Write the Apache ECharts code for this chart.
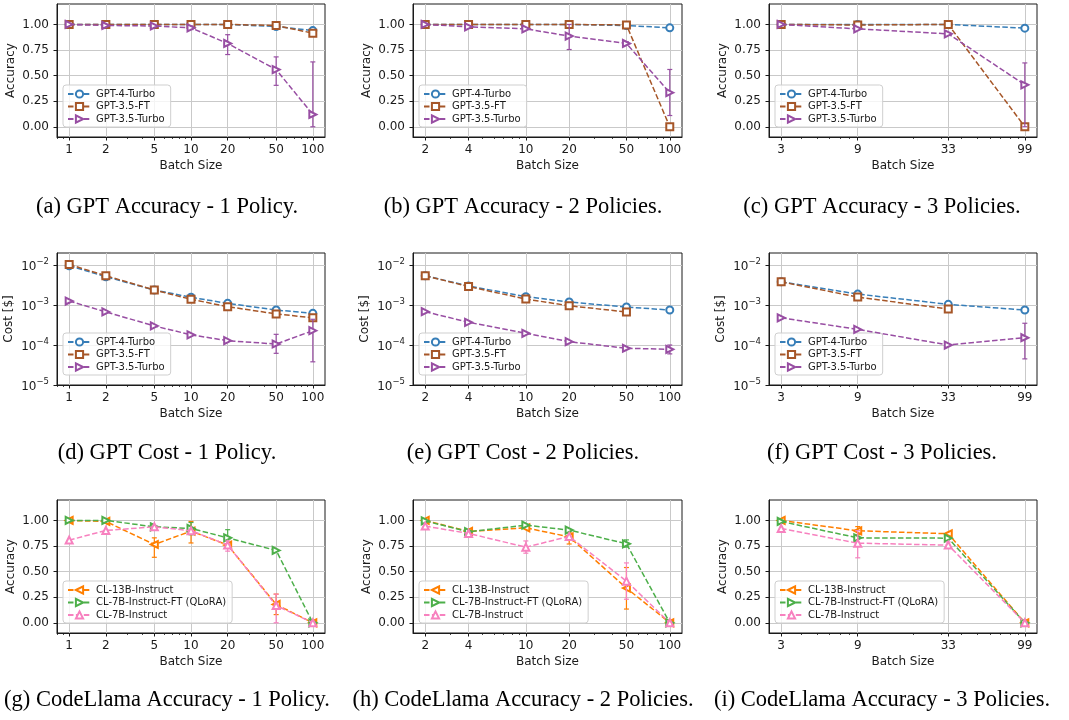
<!DOCTYPE html>
<html><head><meta charset="utf-8">
<script src="https://cdn.jsdelivr.net/npm/echarts@6/dist/echarts.min.js"></script>
<style>html,body{margin:0;padding:0;background:#fff}#c{width:1069px;height:720px}</style>
</head><body><div id="c"></div>
<script>
// ---------- batch sizes (x categories) ----------
const batch1 = [1, 2, 5, 10, 20, 50, 100];
const batch2 = [2, 4, 10, 20, 50, 100];
const batch3 = [3, 9, 33, 99];

const gptNames = ['GPT-4-Turbo', 'GPT-3.5-FT', 'GPT-3.5-Turbo'];
const clNames = ['CL-13B-Instruct', 'CL-7B-Instruct-FT (QLoRA)', 'CL-7B-Instruct'];

const accTicks = [0, 0.25, 0.5, 0.75, 1.0];
const costTicks = [1e-5, 1e-4, 1e-3, 1e-2];

// ---------- (a) GPT Accuracy - 1 Policy ----------
const accA_gpt4  = [1.0, 1.0, 1.0, 1.0, 1.0, 0.98, 0.94];
const accA_ft    = [1.0, 1.0, 1.0, 1.0, 1.0, 0.99, 0.915];
const accA_turbo = [1.0, 0.99, 0.985, 0.967, 0.814, 0.559, 0.12];
const errA_turbo = [null, null, null, [0.95, 0.985], [0.706, 0.90], [0.405, 0.683], [0.0, 0.634]];

// ---------- (b) GPT Accuracy - 2 Policies ----------
const accB_gpt4  = [1.0, 1.0, 1.0, 1.0, 0.99, 0.967];
const accB_ft    = [1.0, 1.0, 1.0, 1.0, 0.995, 0.0];
const accB_turbo = [1.0, 0.977, 0.957, 0.886, 0.814, 0.333];
const errB_turbo = [null, null, null, [0.755, 1.0], [0.80, 0.83], [0.11, 0.56]];

// ---------- (c) GPT Accuracy - 3 Policies ----------
const accC_gpt4  = [1.0, 1.0, 1.0, 0.964];
const accC_ft    = [1.0, 0.995, 1.0, 0.0];
const accC_turbo = [1.0, 0.957, 0.908, 0.41];
const errC_turbo = [null, null, null, [0.0, 0.624]];

// ---------- (d) GPT Cost - 1 Policy ----------
const costD_gpt4  = [0.0096, 0.0051, 0.00237, 0.00156, 0.0011, 0.00075, 0.00062];
const costD_ft    = [0.0103, 0.0054, 0.00237, 0.00139, 0.00091, 0.0006, 0.00048];
const costD_turbo = [0.00126, 0.00067, 0.0003, 0.00018, 0.000128, 0.000106, 0.000228];
const errD_turbo  = [null, null, null, null, null, [6.2e-5, 1.85e-4], [3.8e-5, 4.4e-4]];

// ---------- (e) GPT Cost - 2 Policies ----------
const costE_gpt4  = [0.0054, 0.003, 0.00162, 0.00119, 0.00089, 0.00075];
const costE_ft    = [0.0054, 0.0029, 0.00141, 0.00096, 0.00067, null];
const costE_turbo = [0.00068, 0.00037, 0.000196, 0.000121, 8.3e-5, 7.8e-5];
const errE_turbo  = [null, null, null, null, null, [6.0e-5, 1.0e-4]];

// ---------- (f) GPT Cost - 3 Policies ----------
const costF_gpt4  = [0.0038, 0.00188, 0.00104, 0.00075];
const costF_ft    = [0.0038, 0.00158, 0.00079, null];
const costF_turbo = [0.00048, 0.000246, 0.0001, 0.000152];
const errF_turbo  = [null, null, null, [4.5e-5, 3.5e-4]];

// ---------- (g) CodeLlama Accuracy - 1 Policy ----------
const accG_13b  = [1.0, 0.99, 0.765, 0.896, 0.759, 0.179, 0.0];
const accG_7bft = [1.0, 1.0, 0.938, 0.922, 0.83, 0.707, 0.0];
const accG_7b   = [0.808, 0.902, 0.938, 0.9, 0.76, 0.169, 0.0];
const errG_13b  = [null, null, [0.64, 0.83], [0.78, 0.99], null, [0.08, 0.28], null];
const errG_7bft = [null, null, null, [0.86, 0.98], [0.75, 0.91], null, null];
const errG_7b   = [null, null, null, null, [0.70, 0.80], [0.0, 0.28], null];

// ---------- (h) CodeLlama Accuracy - 2 Policies ----------
const accH_13b  = [1.0, 0.893, 0.928, 0.84, 0.339, 0.0];
const accH_7bft = [0.995, 0.89, 0.954, 0.906, 0.772, 0.0];
const accH_7b   = [0.945, 0.873, 0.739, 0.844, 0.407, 0.0];
const errH_13b  = [null, null, null, [0.77, 0.88], [0.134, 0.54], null];
const errH_7bft = [null, null, null, null, [0.74, 0.81], null];
const errH_7b   = [null, null, [0.68, 0.80], null, [0.23, 0.585], null];

// ---------- (i) CodeLlama Accuracy - 3 Policies ----------
const accI_13b  = [1.0, 0.899, 0.87, 0.0];
const accI_7bft = [0.99, 0.83, 0.827, 0.0];
const accI_7b   = [0.922, 0.778, 0.759, 0.0];
const errI_13b  = [null, [0.86, 0.94], null, null];
const errI_7bft = [null, null, null, null];
const errI_7b   = [null, [0.635, 0.9], [0.73, 0.79], null];

const captions = [
  '(a) GPT Accuracy - 1 Policy.', '(b) GPT Accuracy - 2 Policies.', '(c) GPT Accuracy - 3 Policies.',
  '(d) GPT Cost - 1 Policy.', '(e) GPT Cost - 2 Policies.', '(f) GPT Cost - 3 Policies.',
  '(g) CodeLlama Accuracy - 1 Policy.', '(h) CodeLlama Accuracy - 2 Policies.', '(i) CodeLlama Accuracy - 3 Policies.'
];

// ---------- styling ----------
const FAM = {
  gpt: { names: gptNames, colors: ['#377eb8', '#a65628', '#984ea3'],
         symbols: ['emptyCircle', 'emptyRect', 'emptyTriangle'], rot: [0, 0, -90] },
  cl:  { names: clNames, colors: ['#ff7f00', '#4daf4a', '#f781bf'],
         symbols: ['emptyTriangle', 'emptyTriangle', 'emptyTriangle'], rot: [90, -90, 0] }
};

const panels = [
  { xs: batch1, kind: 'acc',  fam: 'gpt', ys: [accA_gpt4, accA_ft, accA_turbo], errs: [null, null, errA_turbo] },
  { xs: batch2, kind: 'acc',  fam: 'gpt', ys: [accB_gpt4, accB_ft, accB_turbo], errs: [null, null, errB_turbo] },
  { xs: batch3, kind: 'acc',  fam: 'gpt', ys: [accC_gpt4, accC_ft, accC_turbo], errs: [null, null, errC_turbo] },
  { xs: batch1, kind: 'cost', fam: 'gpt', ys: [costD_gpt4, costD_ft, costD_turbo], errs: [null, null, errD_turbo] },
  { xs: batch2, kind: 'cost', fam: 'gpt', ys: [costE_gpt4, costE_ft, costE_turbo], errs: [null, null, errE_turbo] },
  { xs: batch3, kind: 'cost', fam: 'gpt', ys: [costF_gpt4, costF_ft, costF_turbo], errs: [null, null, errF_turbo] },
  { xs: batch1, kind: 'acc',  fam: 'cl', ys: [accG_13b, accG_7bft, accG_7b], errs: [errG_13b, errG_7bft, errG_7b] },
  { xs: batch2, kind: 'acc',  fam: 'cl', ys: [accH_13b, accH_7bft, accH_7b], errs: [errH_13b, errH_7bft, errH_7b] },
  { xs: batch3, kind: 'acc',  fam: 'cl', ys: [accI_13b, accI_7bft, accI_7b], errs: [errI_13b, errI_7bft, errI_7b] }
];

const colLeft = [57, 413, 769], colW = [268, 269, 268];
const rowTop = [4, 253, 500], rowH = [133, 132, 133];
const capY = [207, 453, 700], capX = [167, 523, 882];

const FONT = 'DejaVu Sans';
const INK = '#1a1a1a';
const GRIDC = '#c9c9c9';

const grids = [], xAxes = [], yAxes = [], series = [], legends = [], graphics = [];

panels.forEach((p, i) => {
  const r = Math.floor(i / 3), c = i % 3;
  const left = colLeft[c], top = rowTop[r], w = colW[c], h = rowH[r];
  grids.push({ left, top, width: w, height: h, show: true, borderColor: INK, borderWidth: 1,
               backgroundColor: 'transparent', outerBoundsMode: 'none', containLabel: false });

  const lo = Math.log10(p.xs[0]), hi = Math.log10(p.xs[p.xs.length - 1]);
  const pad = (hi - lo) * 0.05;
  const xmin = Math.pow(10, lo - pad), xmax = Math.pow(10, hi + pad);
  const minors = [];
  for (let d = -1; d <= 2; d++) for (let m = 2; m <= 9; m++) {
    const v = Math.round(m * Math.pow(10, d) * 1000) / 1000;
    if (v > xmin && v < xmax && p.xs.indexOf(v) < 0) minors.push(v);
  }

  xAxes.push({
    type: 'log', logBase: 10, gridIndex: i, min: xmin, max: xmax, position: 'bottom',
    axisLine: { show: true, onZero: false, lineStyle: { color: INK, width: 1 } },
    axisTick: { show: true, customValues: p.xs, length: 3.5, lineStyle: { color: INK, width: 1 } },
    axisLabel: { show: true, customValues: p.xs, margin: 7, fontSize: 12, color: INK, fontFamily: FONT,
                 formatter: v => String(Math.round(v)) },
    splitLine: { show: true, lineStyle: { color: GRIDC, width: 1 } },
    name: 'Batch Size', nameLocation: 'middle', nameGap: 23,
    nameTextStyle: { fontSize: 12, color: INK, fontFamily: FONT }
  });
  xAxes.push({
    type: 'log', logBase: 10, gridIndex: i, min: xmin, max: xmax, position: 'bottom', offset: 0,
    axisLine: { show: false, onZero: false }, axisLabel: { show: false }, splitLine: { show: false },
    axisTick: { show: true, customValues: minors, length: 2, lineStyle: { color: INK, width: 0.8 } }
  });

  if (p.kind === 'acc') {
    yAxes.push({
      type: 'value', gridIndex: i, min: -0.1, max: 1.2,
      axisLine: { show: true, onZero: false, lineStyle: { color: INK, width: 1 } },
      axisTick: { show: true, customValues: accTicks, length: 3.5, lineStyle: { color: INK } },
      axisLabel: { customValues: accTicks, margin: 8, fontSize: 12, color: INK, fontFamily: FONT,
                   formatter: v => v.toFixed(2) },
      splitLine: { show: true, lineStyle: { color: GRIDC, width: 1 } },
      name: 'Accuracy', nameLocation: 'middle', nameGap: 40,
      nameTextStyle: { fontSize: 12, color: INK, fontFamily: FONT }
    });
  } else {
    yAxes.push({
      type: 'log', logBase: 10, gridIndex: i, min: 1e-5, max: 0.02,
      axisLine: { show: true, onZero: false, lineStyle: { color: INK, width: 1 } },
      axisTick: { show: true, customValues: costTicks, length: 3.5, lineStyle: { color: INK } },
      axisLabel: { customValues: costTicks, margin: 8, color: INK, fontFamily: FONT,
                   formatter: v => '{b|10}{s|\u2212' + Math.round(-Math.log10(v)) + '}',
                   rich: { b: { fontSize: 12, fontFamily: FONT, color: INK, lineHeight: 16, verticalAlign: 'bottom' },
                           s: { fontSize: 8.5, fontFamily: FONT, color: INK, lineHeight: 16, verticalAlign: 'top' } } },
      splitLine: { show: true, lineStyle: { color: GRIDC, width: 1 } },
      name: 'Cost [$]', nameLocation: 'middle', nameGap: 42,
      nameTextStyle: { fontSize: 12, color: INK, fontFamily: FONT }
    });
  }

  const fam = FAM[p.fam];
  const legendNames = [];
  p.ys.forEach((ys, k) => {
    const name = fam.names[k] + '#' + i;
    legendNames.push(name);
    const data = [];
    p.xs.forEach((x, j) => { if (ys[j] !== null && ys[j] !== undefined) data.push([x, ys[j]]); });
    series.push({
      type: 'line', name, xAxisIndex: 2 * i, yAxisIndex: i, data,
      symbol: fam.symbols[k], symbolSize: 7, symbolRotate: fam.rot[k], showAllSymbol: true,
      lineStyle: { color: fam.colors[k], width: 1.5, type: [5.5, 2.4] },
      itemStyle: { color: fam.colors[k], borderColor: fam.colors[k], borderWidth: 1.1 },
      emphasis: { disabled: true }, animation: false, z: 3 + k
    });
    const errs = p.errs[k];
    if (errs) {
      const edata = [];
      p.xs.forEach((x, j) => { if (errs[j]) edata.push([x, errs[j][0], errs[j][1]]); });
      series.push({
        type: 'custom', name: 'err-' + name, xAxisIndex: 2 * i, yAxisIndex: i, data: edata,
        encode: { x: 0, y: [1, 2] }, animation: false, z: 3 + k, silent: true,
        renderItem: (params, api) => {
          const x = api.value(0);
          const a = api.coord([x, api.value(1)]), b = api.coord([x, api.value(2)]);
          const st = { stroke: fam.colors[k], lineWidth: 1.2 };
          const cw = 2.5;
          return { type: 'group', children: [
            { type: 'line', shape: { x1: a[0], y1: a[1], x2: b[0], y2: b[1] }, style: st },
            { type: 'line', shape: { x1: a[0] - cw, y1: a[1], x2: a[0] + cw, y2: a[1] }, style: st },
            { type: 'line', shape: { x1: b[0] - cw, y1: b[1], x2: b[0] + cw, y2: b[1] }, style: st }
          ] };
        }
      });
    }
  });

  legends.push({
    data: legendNames, orient: 'vertical', left: left + 6, bottom: 720 - (top + h) + 10,
    selectedMode: false, padding: [4, 6, 3, 4], itemGap: 2.5, itemWidth: 23, itemHeight: 9,
    borderColor: '#cfcfcf', borderWidth: 1, borderRadius: 3, backgroundColor: 'rgba(255,255,255,0.8)',
    textStyle: { fontSize: 10, fontFamily: FONT, color: INK, lineHeight: 10 },
    formatter: n => n.split('#')[0]
  });

  graphics.push({
    type: 'text', x: capX[c], y: capY[r], silent: true,
    style: { text: captions[i], font: '22.5px "Liberation Serif"', fill: '#000',
             align: 'center', verticalAlign: 'middle', textAlign: 'center', textVerticalAlign: 'middle' }
  });
});

const chart = echarts.init(document.getElementById('c'), null, { renderer: 'canvas' });
chart.setOption({
  animation: false,
  backgroundColor: '#ffffff',
  grid: grids, xAxis: xAxes, yAxis: yAxes, series, legend: legends, graphic: graphics,
  tooltip: { show: false }
});
</script></body></html>
